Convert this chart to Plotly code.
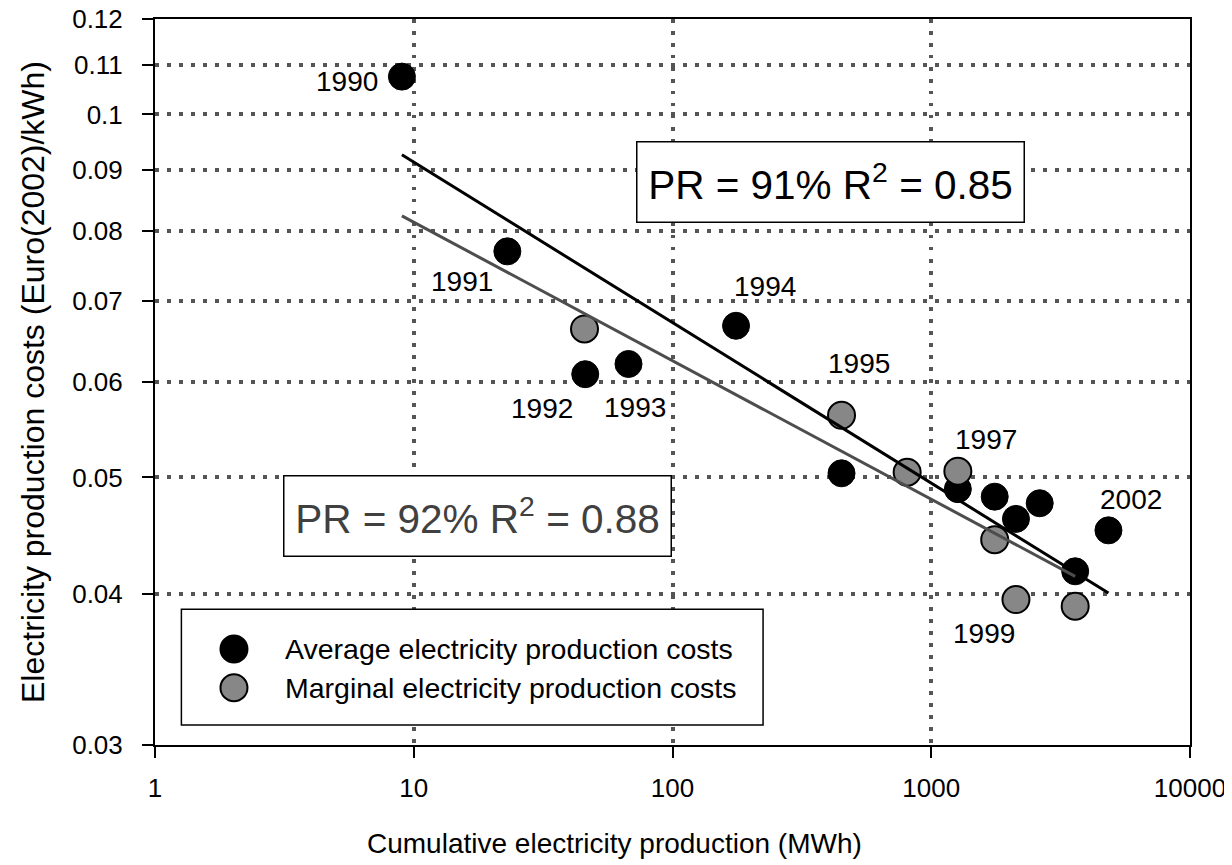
import math
import plotly.graph_objects as go

# Average electricity production costs (black points)
avg_mwh = [9, 23, 46, 67.6, 176, 450, 1267, 1759, 2125, 2625, 3600, 4840]
avg_cost = [0.1075, 0.0770, 0.0609, 0.0621, 0.0668, 0.0504,
            0.0489, 0.0482, 0.0462, 0.0476, 0.0418, 0.0452]

# Marginal electricity production costs (grey points)
marg_mwh = [45.7, 450, 807, 1267, 1759, 2125, 3600]
marg_cost = [0.0664, 0.0563, 0.0505, 0.0506, 0.0444, 0.0396, 0.0391]

# Fitted experience curves (end points)
trend_avg_mwh = [9, 4840]
trend_avg_cost = [0.0926, 0.0401]
trend_marg_mwh = [9, 3600]
trend_marg_cost = [0.0824, 0.0414]

# Year labels: which series / point they belong to
year_labels = ["1990", "1991", "1992", "1993", "1994", "1995", "1997", "1999", "2002"]
year_series = ["avg", "avg", "avg", "avg", "avg", "marg", "marg", "marg", "avg"]
year_index = [0, 1, 2, 3, 4, 1, 3, 5, 11]
# pixel offsets of the labels from their points
year_shift = [(-55, -5), (-45, -30), (-43, -34), (6, -44), (29, 39),
              (17, 52), (28, 32), (-32, -34), (23, 31)]

y_ticks = [0.03, 0.04, 0.05, 0.06, 0.07, 0.08, 0.09, 0.1, 0.11, 0.12]
y_ticktext = ["0.03", "0.04", "0.05", "0.06", "0.07", "0.08", "0.09", "0.1", "0.11", "0.12"]
x_ticks = [1, 10, 100, 1000, 10000]
x_ticktext = ["1", "10", "100", "1000", "10000"]

FONT = "Liberation Sans, Arial, sans-serif"

fig = go.Figure()

fig.add_trace(go.Scatter(
    x=avg_mwh, y=avg_cost, mode="markers",
    name="Average electricity production costs",
    marker=dict(size=27, color="black", line=dict(color="black", width=1)),
))
fig.add_trace(go.Scatter(
    x=marg_mwh, y=marg_cost, mode="markers",
    name="Marginal electricity production costs",
    marker=dict(size=27, color="#878787", line=dict(color="black", width=2)),
))
fig.add_trace(go.Scatter(
    x=trend_avg_mwh, y=trend_avg_cost, mode="lines",
    line=dict(color="black", width=3), hoverinfo="skip"
))
fig.add_trace(go.Scatter(
    x=trend_marg_mwh, y=trend_marg_cost, mode="lines",
    line=dict(color="#4d4d4d", width=3), hoverinfo="skip"
))

# year annotations
for lab, ser, idx, (dx, dy) in zip(year_labels, year_series, year_index, year_shift):
    xs, ys = (avg_mwh, avg_cost) if ser == "avg" else (marg_mwh, marg_cost)
    fig.add_annotation(
        x=math.log10(xs[idx]), y=math.log10(ys[idx]),
        xref="x", yref="y", text=lab, showarrow=False,
        xshift=dx, yshift=dy,
        font=dict(size=28, color="black", family=FONT)
    )

# PR boxes
fig.add_annotation(
    x=0.6525, y=0.7748, xref="paper", yref="paper",
    xanchor="center", yanchor="middle",
    text="PR = 91% R<sup>2</sup> = 0.85", showarrow=False,
    font=dict(size=40.5, color="black", family=FONT),
    bgcolor="white", bordercolor="black", borderwidth=1.5, borderpad=0,
    width=386, height=79
)
fig.add_annotation(
    x=0.3120, y=0.3154, xref="paper", yref="paper",
    xanchor="center", yanchor="middle",
    text="PR = 92% R<sup>2</sup> = 0.88", showarrow=False,
    font=dict(size=40.5, color="#404040", family=FONT),
    bgcolor="white", bordercolor="black", borderwidth=1.5, borderpad=0,
    width=386, height=79
)

# hand-made legend (plotly caps legend markers at 16px)
fig.add_shape(type="rect", xref="paper", yref="paper",
              x0=0.0255, x1=0.5875, y0=0.0275, y1=0.1869,
              line=dict(color="black", width=1.5), fillcolor="white", layer="above")
legend_items = [("Average electricity production costs", "black", 0.1322),
                ("Marginal electricity production costs", "#878787", 0.0789)]
for text, col, yy in legend_items:
    fig.add_shape(type="circle", xref="paper", yref="paper",
                  xsizemode="pixel", ysizemode="pixel",
                  xanchor=0.0763, yanchor=yy, x0=-13.5, x1=13.5, y0=-13.5, y1=13.5,
                  fillcolor=col, line=dict(color="black", width=2), layer="above")
    fig.add_annotation(x=0.1237, y=yy, xref="paper", yref="paper",
                       text=text, showarrow=False, xanchor="left", yanchor="middle",
                       font=dict(size=28.5, color="black", family=FONT))

# axis titles placed by hand (x title sits left of the plot centre in the original)
fig.add_annotation(x=0.4444, y=-0.135, xref="paper", yref="paper",
                   xanchor="center", yanchor="middle", showarrow=False,
                   text="Cumulative electricity production (MWh)",
                   font=dict(size=28, color="black", family=FONT))
fig.add_annotation(x=-0.1179, y=0.5, xref="paper", yref="paper",
                   xanchor="center", yanchor="middle", showarrow=False,
                   textangle=-90,
                   text="Electricity production costs (Euro(2002)/kWh)",
                   font=dict(size=32, color="black", family=FONT))

axis_common = dict(
    showline=True, linecolor="black", linewidth=2, mirror=True,
    ticks="outside", ticklen=11, tickwidth=2, tickcolor="black",
    showgrid=True, gridcolor="#555555", gridwidth=3.5, griddash="3.5px,8.5px",
    zeroline=False, automargin=False, ticklabeloverflow="allow",
    tickfont=dict(size=26, color="black", family=FONT),
)

# page body has an 8px margin, so the figure is 8px smaller than the window
fig.update_layout(
    width=1224, height=857,
    margin=dict(l=147, r=42, t=11, b=120),
    paper_bgcolor="white", plot_bgcolor="white",
    font=dict(family=FONT, color="black"),
    showlegend=False,
    xaxis=dict(
        type="log", range=[0, 4], tickvals=x_ticks, ticktext=x_ticktext,
        ticklabelstandoff=8,
        **axis_common
    ),
    yaxis=dict(
        type="log", range=[math.log10(0.03), math.log10(0.12)],
        tickvals=y_ticks, ticktext=y_ticktext,
        ticklabelstandoff=14,
        **axis_common
    ),
)

fig.write_html("out.html")
